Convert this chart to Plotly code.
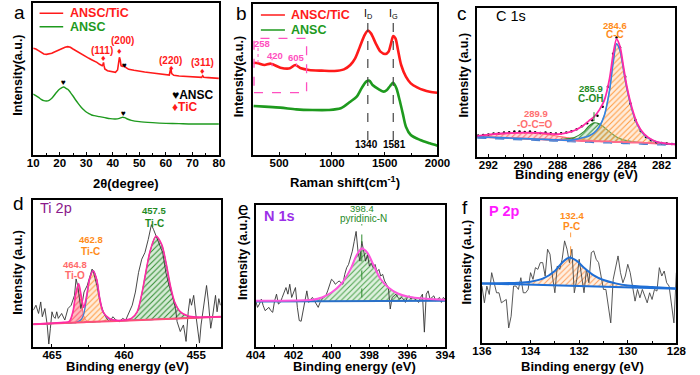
import plotly.graph_objects as go

W, H = 700, 375
def PX(x): return x / W
def PY(y): return 1 - y / H

RED = '#ff1a1a'
GRN = '#1e9a1e'
FONT = 'Arial, Liberation Sans, sans-serif'

# ---------------- panel a : XRD ----------------
a_x_tic = [10, 11, 12, 13, 14, 15, 16, 17, 18, 19, 20, 21, 22, 23, 24, 25, 26, 27, 28, 29, 30, 31, 32, 33, 34, 35,
           36.0, 36.3, 36.5, 36.7, 37, 38, 39, 40, 41, 41.8, 42.2, 42.5, 42.8, 43.1, 43.6, 44.3, 45, 46, 48, 50, 52, 55,
           58, 60, 61.3, 61.7, 61.9, 62.2, 63, 65, 68, 70, 73.5, 73.9, 74.3, 76, 78, 80]
a_y_tic = [320, 318, 313, 308, 303, 302, 303, 305, 309, 313, 317, 320, 323, 325, 323, 318, 313, 308, 303, 298, 294, 290, 286, 283, 278, 272,
           268, 272, 278, 268, 258, 253, 251, 249, 248, 255, 280, 293, 285, 268, 266, 268, 262, 257, 254, 251, 249, 246,
           243, 241, 240, 255, 259, 244, 239, 237, 235, 234, 233, 238, 233, 232, 231, 230]
a_x_ansc = [10, 11, 12, 13, 14, 15, 16, 17, 18, 19, 20, 21, 21.5, 22, 23, 24, 25, 26, 27, 28, 29, 30, 31, 32, 33, 35, 37, 39,
            41, 42.5, 43.5, 44.5, 45.5, 47, 50, 55, 60, 65, 70, 80]
a_y_ansc = [183, 178, 173, 167, 163, 162, 164, 170, 180, 190, 198, 203, 204, 202, 197, 188, 177, 165, 154, 144, 136, 129, 124, 120, 118, 115, 112, 109,
            108, 110, 113, 112, 108, 104, 100, 97, 95, 94, 93, 93]

# ---------------- panel b : Raman ----------------
b_x_tic = [258, 301, 361, 421, 512, 602, 653, 707, 783, 903, 1024, 1114, 1174, 1220, 1265, 1310, 1340, 1370, 1415, 1460,
           1506, 1536, 1560, 1581, 1602, 1626, 1656, 1701, 1747, 1807, 1867, 1927, 2000]
b_y_tic = [277, 275, 270, 274, 262, 260, 270, 260, 255, 253, 252, 257, 270, 290, 325, 360, 373, 365, 335, 310,
           303, 310, 335, 357, 350, 315, 270, 235, 215, 203, 195, 190, 187]
b_x_ansc = [258, 361, 512, 662, 813, 963, 1084, 1174, 1235, 1280, 1325, 1355, 1385, 1445, 1491, 1521, 1551, 1581, 1611,
            1641, 1671, 1701, 1747, 1837, 1927, 2000]
b_y_ansc = [147, 145, 142, 137, 135, 135, 140, 160, 175, 200, 220, 223, 210, 197, 190, 195, 207, 217, 200,
            165, 125, 85, 60, 45, 35, 28]

# ---------------- panel c : C 1s ----------------
c_x = [292.65, 292, 291, 290, 289, 288.5, 288, 287.5, 287, 286.5, 286.2, 285.9, 285.6, 285.3, 285.0, 284.8, 284.6,
       284.4, 284.2, 284.0, 283.7, 283.4, 283.0, 282.5, 282, 281.2]
c_base = [60, 59, 57, 55, 53, 52, 51, 50, 49, 48, 48, 47, 47, 46, 46, 45, 45, 45, 44, 44, 43, 43, 42, 41, 40, 38]
c_oco = [63, 66, 70, 72, 70, 67, 62, 58, 54, 51, 50, 49, 48, 47, 47, 46, 46, 46, 45, 45, 44, 44, 43, 42, 41, 39]
c_coh = [60, 59, 57, 55, 53, 52, 52, 54, 59, 75, 92, 102, 99, 88, 75, 67, 60, 55, 51, 49, 46, 44, 42, 41, 40, 38]
c_cc = [60, 59, 57, 55, 53, 52, 51, 50, 52, 58, 63, 72, 90, 125, 200, 280, 338, 318, 262, 204, 140, 97, 66, 49, 41, 38]
c_env = [63, 67, 71, 73, 72, 70, 68, 72, 80, 95, 108, 120, 140, 170, 235, 305, 352, 330, 270, 210, 145, 100, 68, 50, 42, 38]
c_raw_x = [292.6, 292.3, 292.0, 291.7, 291.4, 291.1, 290.8, 290.5, 290.2, 289.9, 289.6, 289.3, 289.0, 288.7, 288.4,
           288.1, 287.8, 287.5, 287.2, 286.9, 286.6, 286.3, 286.0, 285.7, 285.4, 285.1, 284.8, 284.6, 284.4, 284.1,
           283.8, 283.5, 283.2, 282.9, 282.6, 282.3, 282.0, 281.7, 281.4]
c_raw_y = [64, 66, 67, 70, 71, 73, 74, 76, 76, 75, 76, 74, 72, 73, 71, 70, 71, 73, 77, 83, 92, 101, 110, 123, 150,
           210, 308, 357, 328, 240, 160, 110, 78, 60, 50, 44, 42, 40, 39]

# ---------------- panel d : Ti 2p ----------------
d_x = [466.3, 465.5, 464.8, 464.2, 463.8, 463.55, 463.35, 463.15, 462.95, 462.8, 462.6, 462.4, 462.15, 461.9, 461.7,
       461.45, 461.0, 460.5, 460.0, 459.5, 459.1, 458.8, 458.5, 458.2, 457.8, 457.4, 457.1, 456.8, 456.5, 456.1,
       455.6, 455.0, 454.0, 453.3]
d_base = [69, 70, 72, 73, 73, 74, 74, 75, 75, 75, 76, 76, 76, 77, 77, 78, 78, 79, 80, 81, 82, 82, 83, 83, 84, 85, 85,
          86, 86, 87, 88, 89, 91, 92]
d_tio = [69, 70, 72, 73, 76, 105, 160, 189, 140, 95, 80, 76, 76, 77, 77, 78, 78, 79, 80, 81, 82, 82, 83, 83, 84, 85,
         85, 86, 86, 87, 88, 89, 91, 92]
d_tic = [69, 70, 72, 73, 73, 74, 74, 78, 85, 100, 150, 205, 232, 205, 150, 105, 84, 80, 80, 81, 82, 82, 83, 83, 84,
         85, 85, 86, 86, 87, 88, 89, 91, 92]
d_tic2 = [69, 70, 72, 73, 73, 74, 74, 75, 75, 75, 76, 76, 76, 77, 77, 78, 78, 79, 81, 86, 106, 156, 226, 291, 336,
          311, 256, 186, 136, 106, 94, 90, 91, 92]
d_env = [69, 71, 73, 75, 78, 107, 163, 193, 150, 120, 155, 206, 232, 205, 150, 106, 86, 81, 82, 87, 107, 157, 227,
         292, 337, 312, 257, 187, 137, 107, 95, 91, 91, 92]
d_raw_x = [466.29, 466.11, 465.93, 465.78, 465.67, 465.49, 465.33, 465.22, 465.11, 465.0, 464.89, 464.78, 464.67,
           464.56, 464.33, 464.11, 463.89, 463.67, 463.44, 463.33, 463.22, 463.11, 463.0, 462.89, 462.78, 462.56,
           462.33, 462.22, 462.11, 461.89, 461.67, 461.44, 461.22, 461.0, 460.78, 460.56, 460.33, 460.11, 459.89,
           459.67, 459.44, 459.22, 459.0, 458.78, 458.56, 458.33, 458.11, 457.96, 457.78, 457.56, 457.33, 457.11,
           456.89, 456.67, 456.44, 456.33, 456.11, 455.89, 455.71, 455.56, 455.44, 455.33, 455.18, 455.0, 454.89,
           454.78, 454.67, 454.56, 454.44, 454.29, 454.16, 454.0, 453.89, 453.76, 453.67, 453.56, 453.44, 453.33]
d_raw_y = [112, 127, 102, 137, 92, 117, 67, 9, 57, 107, 92, 87, 107, 87, 102, 82, 117, 127, 157, 207,
           187, 157, 117, 137, 167, 187, 222, 237, 225, 187, 137, 107, 87, 77, 92, 82, 77, 87, 82, 107,
           127, 167, 227, 267, 287, 327, 372, 357, 337, 312, 287, 227, 187, 157, 117, 77, 47, 67, 17, 107,
           147, 127, 157, 87, 47, 12, 67, 107, 147, 187, 137, 57, 87, 127, 157, 107, 147, 127]

# ---------------- panel e : N 1s ----------------
e_x = [404, 401, 400.5, 400, 399.5, 399, 398.7, 398.4, 398.1, 397.8, 397.4, 397, 396.5, 396, 395, 394]
e_env = [140, 143, 150, 165, 190, 235, 275, 298, 285, 250, 205, 180, 162, 153, 146, 143]
e_base = [138, 138, 138, 138, 138, 138, 138, 138, 138, 138, 138, 138, 139, 139, 139, 140]
e_raw_y = [140, 120, 130, 145, 125, 110, 115, 120, 110, 105,
           140, 160, 130, 135, 150, 165, 180, 160, 190, 150,
           165, 180, 120, 80, 78, 110, 140, 170, 135, 145,
           150, 140, 130, 120, 135, 145, 150, 155, 170, 190,
           205, 200, 190, 195, 200, 195, 190, 220, 240, 250,
           270, 290, 320, 350, 290, 260, 320, 290, 260, 280,
           245, 255, 240, 250, 228, 235, 215, 220, 200, 190,
           180, 115, 150, 155, 160, 150, 145, 150, 145, 135,
           150, 155, 145, 150, 145, 140, 135, 150, 160, 45,
           160, 170, 145, 150, 155, 140, 145, 150, 135, 150,
           145]
e_raw_x = [round(404 - 0.1 * i, 1) for i in range(len(e_raw_y))]

# ---------------- panel f : P 2p ----------------
f_x = [136, 134.5, 134, 133.5, 133, 132.7, 132.4, 132.1, 131.8, 131.4, 131, 130.5, 130, 129, 128]
f_env = [178, 180, 183, 192, 215, 240, 255, 245, 225, 202, 188, 178, 172, 167, 163]
f_base = [178, 175, 174, 173, 172, 171, 170, 170, 169, 168, 167, 166, 165, 164, 162]
f_raw_y = [170, 120, 170, 145, 210, 175, 150, 150, 120, 125,
           130, 45, 80, 170, 170, 160, 195, 150, 150, 160,
           210, 190, 225, 220, 240, 240, 200, 280, 265, 200,
           150, 230, 220, 250, 305, 280, 240, 280, 150, 190,
           250, 200, 150, 220, 180, 270, 275, 250, 240, 200,
           160, 160, 110, 60, 190, 230, 260, 210, 180, 200,
           235, 210, 165, 125, 160, 135, 160, 140, 120, 150,
           130, 160, 155, 225, 200, 215, 180, 170, 120, 60,
           210]
f_raw_x = [round(136 - 0.1 * i, 1) for i in range(len(f_raw_y))]

fig = go.Figure()

def line(x, y, xa, ya, color, width=1.5, shape='spline', dash='solid', fill=None, fillcolor=None, pattern=None, mode='lines', marker=None):
    kw = dict(x=x, y=y, xaxis=xa, yaxis=ya, mode=mode, showlegend=False, hoverinfo='skip',
              line=dict(color=color, width=width, shape=shape, dash=dash, smoothing=0.8))
    if fill:
        kw['fill'] = fill
        kw['fillcolor'] = fillcolor
        if pattern:
            kw['fillpattern'] = pattern
    if marker:
        kw['marker'] = marker
    fig.add_trace(go.Scatter(**kw))

def hatch(fg, bg):
    return dict(shape='/', fgcolor=fg, bgcolor=bg, size=4, solidity=0.25, fillmode='replace')

# panel a
line(a_x_tic, a_y_tic, 'x', 'y', RED, 1.6, shape='linear')
line(a_x_ansc, a_y_ansc, 'x', 'y', GRN, 1.4)
# panel b
line(b_x_tic, b_y_tic, 'x2', 'y2', RED, 2.6)
line(b_x_ansc, b_y_ansc, 'x2', 'y2', GRN, 2.6)
# panel c
for comp, fg, bg in [(c_oco, '#ff6b6b', 'rgba(255,150,150,0.35)'),
                     (c_coh, '#2e8b2e', 'rgba(120,190,120,0.25)'),
                     (c_cc, '#ff9a40', 'rgba(255,200,150,0.35)')]:
    line(c_x, c_base, 'x3', 'y3', 'rgba(0,0,0,0)', 0)
    line(c_x, comp, 'x3', 'y3', fg, 1.2, fill='tonexty', fillcolor=bg, pattern=hatch(fg, bg))
line(c_x, c_base, 'x3', 'y3', '#ff6b8b', 2)
line(c_x, [v - 4 for v in c_base], 'x3', 'y3', '#4a7fd0', 1.2, dash='dash')
line(c_raw_x, c_raw_y, 'x3', 'y3', 'black', 0, mode='markers', marker=dict(color='black', size=2.5))
line(c_x, c_cc, 'x3', 'y3', '#2f86e8', 1.6)
line(c_x, c_env, 'x3', 'y3', '#ff2aa6', 1.8)
# panel d
for comp, fg, bg in [(d_tio, '#ff4f6a', 'rgba(255,120,130,0.5)'),
                     (d_tic, '#ff9a40', 'rgba(255,200,150,0.35)'),
                     (d_tic2, '#2e8b2e', 'rgba(120,190,120,0.3)')]:
    line(d_x, d_base, 'x4', 'y4', 'rgba(0,0,0,0)', 0)
    line(d_x, comp, 'x4', 'y4', fg, 1, fill='tonexty', fillcolor=bg, pattern=hatch(fg, bg))
line(d_raw_x, d_raw_y, 'x4', 'y4', '#333333', 0.9, shape='linear')
line(d_x, d_tic, 'x4', 'y4', '#3b7ddd', 1.2)
line(d_x, d_base, 'x4', 'y4', '#ff4f7a', 2, shape='linear')
line(d_x, d_env, 'x4', 'y4', '#ff2aa6', 1.6)
# panel e
line(e_x, e_base, 'x5', 'y5', 'rgba(0,0,0,0)', 0)
line(e_x, e_env, 'x5', 'y5', '#66bb66', 0.8, fill='tonexty', fillcolor='rgba(140,200,140,0.3)',
     pattern=hatch('#4aa04a', 'rgba(150,210,150,0.3)'))
line(e_raw_x, e_raw_y, 'x5', 'y5', '#333333', 0.9, shape='linear')
line(e_x, e_base, 'x5', 'y5', '#2a70c8', 2, shape='linear')
line(e_x, e_env, 'x5', 'y5', '#ff55dd', 2)
# panel f
line(f_x, f_base, 'x6', 'y6', 'rgba(0,0,0,0)', 0)
line(f_x, f_env, 'x6', 'y6', '#ff9a40', 0.5, fill='tonexty', fillcolor='rgba(255,200,160,0.35)',
     pattern=hatch('#ffa060', 'rgba(255,210,170,0.35)'))
line(f_raw_x, f_raw_y, 'x6', 'y6', '#444444', 0.9, shape='linear')
line(f_x, f_base, 'x6', 'y6', '#1f6fd6', 2, shape='linear')
line(f_x, f_env, 'x6', 'y6', '#1f6fd6', 2)

# ---------------- axes ----------------
tickfont = dict(family=FONT, size=11.5, color='black', weight='bold')

def xax(dom, anchor, rng, dtick, minor):
    return dict(domain=[PX(dom[0]), PX(dom[1])], anchor=anchor, range=rng, dtick=dtick, tick0=0,
                showline=True, linecolor='black', linewidth=1.5, mirror=True, ticks='inside', ticklen=3,
                tickcolor='black', tickfont=tickfont, showgrid=False, zeroline=False, ticklabelstandoff=-4,
                minor=dict(dtick=minor, ticks='inside', ticklen=2, tickcolor='black', showgrid=False))

def yax(dom, anchor, rng):
    return dict(domain=[PY(dom[1]), PY(dom[0])], anchor=anchor, range=rng, showticklabels=False, ticks='',
                showline=True, linecolor='black', linewidth=1.5, mirror=True, showgrid=False, zeroline=False)

layout = dict(width=W, height=H, margin=dict(l=0, r=0, t=0, b=0), paper_bgcolor='white', plot_bgcolor='white',
              showlegend=False, font=dict(family=FONT))
layout['xaxis'] = xax((24, 216), 'y', [10, 80], 10, 5)
layout['yaxis'] = yax((3, 155), 'x', [0, 456])
layout['xaxis2'] = xax((251, 442), 'y2', [250, 2000], 500, 250)
layout['yaxis2'] = yax((4, 155), 'x2', [0, 453])
layout['xaxis3'] = xax((483, 688), 'y3', [292.65, 281.2], 2, 1)
layout['yaxis3'] = yax((8, 157), 'x3', [0, 445])
layout['xaxis4'] = xax((24, 218), 'y4', [466.3, 453.3], 5, 2.5)
layout['yaxis4'] = yax((200, 347), 'x4', [0, 447])
layout['xaxis5'] = xax((254, 450), 'y5', [404, 394], 2, 1)
layout['yaxis5'] = yax((205, 347), 'x5', [0, 430])
layout['xaxis6'] = xax((488, 689), 'y6', [136, 128], 2, 1)
layout['yaxis6'] = yax((199, 343), 'x6', [0, 430])
fig.update_layout(**layout)

# ---------------- annotations ----------------
def txt(x, y, s, color='black', size=10, bold=True, xref='paper', yref='paper', xanchor='center', angle=0):
    fig.add_annotation(x=x, y=y, xref=xref, yref=yref, text=s, showarrow=False, xanchor=xanchor, yanchor='middle',
                       textangle=angle, font=dict(family=FONT, size=size, color=color, weight='bold' if bold else 'normal'))

def seg(x0, y0, x1, y1, xref, yref, color, width=1.2, dash='solid'):
    fig.add_shape(type='line', x0=x0, y0=y0, x1=x1, y1=y1, xref=xref, yref=yref,
                  line=dict(color=color, width=width, dash=dash))

# panel letters
for s, x, y in [('a', 10, 13), ('b', 239, 14), ('c', 467, 14), ('d', 9, 203), ('e', 241, 208), ('f', 470, 207)]:
    txt(PX(x), PY(y), s, size=19, bold=False)

# axis titles
for s, x, y in [('2θ(degree)', 120, 183), ('Raman shift(cm<sup>-1</sup>)', 346, 182), ('Binding energy (eV)', 586, 174),
                ('Binding energy (eV)', 122, 366), ('Binding energy (eV)', 356, 366), ('Binding energy (eV)', 592, 366)]:
    txt(PX(x), PY(y), s, size=13)
for s, x, y in [('Intensity(a.u.)', 8, 75), ('Intensity(a.u.)', 237, 77), ('Intensity (a.u.)', 469, 75),
                ('Intensity (a.u.)', 8, 272), ('Intensity (a.u.)', 241, 258), ('Intensity (a.u.)', 473, 262)]:
    txt(PX(x), PY(y), s, size=12.5, angle=-90)

# panel a texts
seg(12.4, 425, 21.3, 425, 'x', 'y', RED, 1.5)
seg(12.4, 385, 21.3, 385, 'x', 'y', GRN, 1.5)
txt(23.1, 425, 'ANSC/TiC', RED, 12.5, xref='x', yref='y', xanchor='left')
txt(23.1, 385, 'ANSC', GRN, 12.5, xref='x', yref='y', xanchor='left')
for s, x, y in [('(111)', 36.1, 315), ('(200)', 43.6, 343), ('(220)', 61.8, 284), ('(311)', 73.8, 279)]:
    txt(x, y, s, RED, 10, xref='x', yref='y')
for x, y in [(36.5, 291), (42.5, 313), (62.0, 262), (73.9, 252)]:
    txt(x, y, '♦', RED, 9, xref='x', yref='y')
for x, y in [(44.4, 270), (21.5, 218), (44.0, 126)]:
    txt(x, y, '♥', 'black', 8, xref='x', yref='y')
txt(61.4, 181, '♥ANSC', 'black', 12, xref='x', yref='y', xanchor='left')
txt(61.4, 143, '♦TiC', RED, 12, xref='x', yref='y', xanchor='left')

# panel b texts
seg(327, 420, 555, 420, 'x2', 'y2', RED, 1.5)
seg(327, 375, 555, 375, 'x2', 'y2', GRN, 1.5)
txt(590, 420, 'ANSC/TiC', RED, 12.5, xref='x2', yref='y2', xanchor='left')
txt(590, 375, 'ANSC', GRN, 12.5, xref='x2', yref='y2', xanchor='left')
for xv in [1340, 1581]:
    seg(xv, 45, xv, 408, 'x2', 'y2', '#444444', 1.2, 'dash')
txt(1340, 423, 'I<sub>D</sub>', 'black', 10.5, bold=False, xref='x2', yref='y2')
txt(1581, 423, 'I<sub>G</sub>', 'black', 10.5, bold=False, xref='x2', yref='y2')
txt(1325, 32, '1340', 'black', 10, xref='x2', yref='y2')
txt(1590, 32, '1581', 'black', 10, xref='x2', yref='y2')
PINK = '#ff4fc0'
fig.add_shape(type='rect', x0=262, x1=760, y0=187, y1=350, xref='x2', yref='y2',
              line=dict(color=PINK, width=1.3, dash='dash'))
for s, x, y in [('258', 335, 335), ('420', 460, 300), ('605', 668, 293)]:
    txt(x, y, s, PINK, 9.5, xref='x2', yref='y2')
seg(300, 276, 300, 322, 'x2', 'y2', PINK, 1, 'dot')
seg(433, 266, 433, 288, 'x2', 'y2', PINK, 1, 'dot')
seg(665, 266, 665, 282, 'x2', 'y2', PINK, 1, 'dot')

# panel c texts
txt(291.7, 420, 'C 1s', 'black', 14.5, bold=False, xref='x3', yref='y3', xanchor='left')
txt(284.67, 392, '284.6', '#ff8c1a', 9.5, xref='x3', yref='y3')
txt(284.67, 366, 'C-C', '#ff8c1a', 10, xref='x3', yref='y3')
txt(286.1, 205, '285.9', '#1f8a1f', 9.5, xref='x3', yref='y3')
txt(286.1, 176, 'C-OH', '#1f8a1f', 10, xref='x3', yref='y3')
seg(285.9, 107, 285.9, 160, 'x3', 'y3', '#2e8b2e', 1, 'dash')
txt(289.25, 130, '289.9', '#ff7070', 9.5, xref='x3', yref='y3')
txt(289.3, 96, '-O-C=O', '#ff7070', 10, xref='x3', yref='y3')

# panel d texts
txt(465.95, 422, 'Ti 2p', '#8b1a8b', 14.5, bold=False, xref='x4', yref='y4', xanchor='left')
txt(457.93, 415, '457.5', '#1f8a1f', 9.5, xref='x4', yref='y4')
txt(457.93, 376, 'Ti-C', '#1f8a1f', 10, xref='x4', yref='y4')
txt(462.33, 327, '462.8', '#ff8c1a', 9.5, xref='x4', yref='y4')
txt(462.33, 290, 'Ti-C', '#ff8c1a', 10, xref='x4', yref='y4')
txt(463.38, 250, '464.8', '#ff6b6b', 9.5, xref='x4', yref='y4')
txt(463.38, 217, 'Ti-O', '#ff6b6b', 10, xref='x4', yref='y4')

# panel e texts
txt(403.66, 398, 'N 1s', '#9b30e8', 14.5, xref='x5', yref='y5', xanchor='left')
txt(398.38, 418, '398.4', '#1f8a1f', 9.5, bold=False, xref='x5', yref='y5')
txt(398.3, 390, 'pyridinic-N', '#1f8a1f', 10, bold=False, xref='x5', yref='y5')
seg(398.4, 150, 398.4, 372, 'x5', 'y5', '#2e8b2e', 1, 'dash')

# panel f texts
txt(135.8, 395, 'P 2p', '#ff1aff', 14.5, xref='x6', yref='y6', xanchor='left')
txt(132.3, 382, '132.4', '#ff8c1a', 9.5, xref='x6', yref='y6')
txt(132.3, 348, 'P-C', '#ff8c1a', 10, xref='x6', yref='y6')
seg(132.35, 262, 132.35, 330, 'x6', 'y6', '#ff9a40', 1, 'dash')

fig.write_html('out.html', config={'displayModeBar': False},
               post_script="document.body.style.margin='0';document.body.style.overflow='hidden';")
